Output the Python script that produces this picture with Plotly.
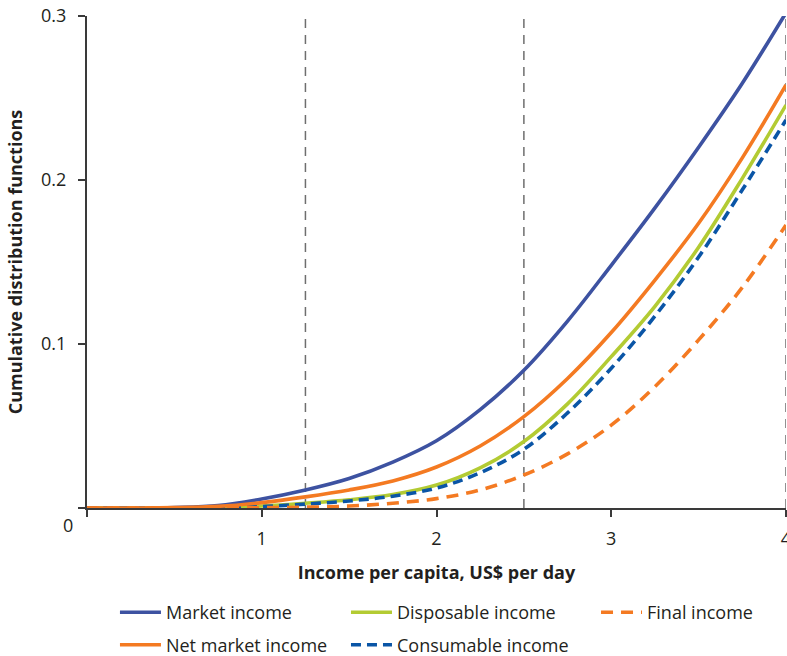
import plotly.graph_objects as go

# ---- data ----
income = [0.0, 0.25, 0.5, 0.75, 1.0, 1.25, 1.5, 1.75, 2.0, 2.25, 2.5, 2.75, 3.0, 3.25, 3.5, 3.75, 4.0]
market_income = [0.0, 0.0, 0.0003, 0.0015, 0.0055, 0.011, 0.018, 0.028, 0.041, 0.060, 0.084, 0.114, 0.148, 0.183, 0.220, 0.259, 0.302]
net_market_income = [0.0, 0.0, 0.0002, 0.0010, 0.0033, 0.0068, 0.011, 0.0165, 0.0250, 0.0378, 0.0557, 0.079, 0.107, 0.139, 0.1736, 0.2135, 0.258]
disposable_income = [0.0, 0.0, 0.0, 0.0003, 0.0012, 0.0029, 0.0050, 0.0082, 0.0140, 0.0245, 0.0405, 0.0635, 0.0923, 0.123, 0.159, 0.201, 0.2457]
consumable_income = [0.0, 0.0, 0.0, 0.0002, 0.0009, 0.0024, 0.0043, 0.0072, 0.0122, 0.0215, 0.0358, 0.058, 0.0852, 0.117, 0.153, 0.194, 0.2366]
final_income = [0.0, 0.0, 0.0, 0.0, 0.0002, 0.0005, 0.0012, 0.0029, 0.0057, 0.0110, 0.0201, 0.033, 0.0505, 0.074, 0.1025, 0.1345, 0.1726]

poverty_lines = [1.25, 2.5, 4.0]

x_tickvals = [0, 1, 2, 3, 4]
x_ticktext = ["", "1", "2", "3", "4"]
y_tickvals = [0, 0.1, 0.2, 0.3]
y_ticktext = ["", "0.1", "0.2", "0.3"]

x_title = "Income per capita, US$ per day"
y_title = "Cumulative distribution functions"

FONT = "Open Sans"
TXT = "#231f20"
AX = "#3a3a3a"

fig = go.Figure()

def add(name, y, color, dash, legend):
    fig.add_trace(go.Scatter(
        x=income, y=y, name=name, mode="lines",
        line=dict(color=color, width=3.6, dash=dash, shape="spline", smoothing=1.0),
        legend=legend, legendgroup=name, hoverinfo="skip",
    ))

add("Market income", market_income, "#3d52a1", "solid", "legend")
add("Disposable income", disposable_income, "#b3cb33", "solid", "legend2")
add("Consumable income", consumable_income, "#0a55a6", "10px,6px", "legend2")
add("Final income", final_income, "#f47a22", "12px,8px", "legend3")
add("Net market income", net_market_income, "#f47a22", "solid", "legend")

for p in poverty_lines:
    fig.add_shape(type="line", xref="x", yref="paper", x0=p, x1=p, y0=0, y1=1,
                  line=dict(color="#6e6e6e", width=1.5, dash="9px,7px"), layer="below")

fig.add_annotation(text="0", xref="paper", yref="paper", x=0, y=0,
                   xanchor="center", yanchor="middle", xshift=-19, yshift=-17,
                   showarrow=False, font=dict(family=FONT, size=18, color=TXT))

legend_common = dict(orientation="v", yanchor="top", y=-0.175, xanchor="left",
                     font=dict(family=FONT, size=18, color=TXT),
                     bgcolor="rgba(0,0,0,0)", borderwidth=0, tracegroupgap=6,
                     itemwidth=41)

fig.update_layout(
    width=787, height=656,
    margin=dict(l=87, r=1, t=16, b=148, autoexpand=False),
    paper_bgcolor="white", plot_bgcolor="white",
    font=dict(family=FONT, size=18, color=TXT),
    showlegend=True,
    legend=dict(x=0.040, **legend_common),
    legend2=dict(x=0.3705, **legend_common),
    legend3=dict(x=0.7282, **legend_common),
    xaxis=dict(range=[0, 4], tickvals=x_tickvals, ticktext=x_ticktext, automargin=False,
               showgrid=False, zeroline=False, showline=True, linecolor=AX, linewidth=2,
               ticks="outside", ticklen=7, tickwidth=2, tickcolor=AX,
               tickfont=dict(family=FONT, size=18, color=TXT), ticklabelstandoff=6,
               ticklabeloverflow="allow",
               title=dict(text="<b>" + x_title + "</b>", standoff=18,
                          font=dict(family=FONT, size=18, color=TXT))),
    yaxis=dict(range=[0, 0.3], tickvals=y_tickvals, ticktext=y_ticktext, automargin=False,
               showgrid=False, zeroline=False, showline=True, linecolor=AX, linewidth=2,
               ticks="outside", ticklen=7, tickwidth=2, tickcolor=AX,
               tickfont=dict(family=FONT, size=18, color=TXT), ticklabelstandoff=8,
               ticklabeloverflow="allow",
               title=dict(text="<b>" + y_title + "</b>", standoff=14,
                          font=dict(family=FONT, size=18, color=TXT))),
)

fig.write_html("out.html", config={"displayModeBar": False})

# remove the default page margin so the 787x656 figure fills the window exactly
with open("out.html", "r", encoding="utf-8") as f:
    html = f.read()
html = html.replace("<head>", "<head><style>html,body{margin:0;padding:0;overflow:hidden;}</style>", 1)
with open("out.html", "w", encoding="utf-8") as f:
    f.write(html)
